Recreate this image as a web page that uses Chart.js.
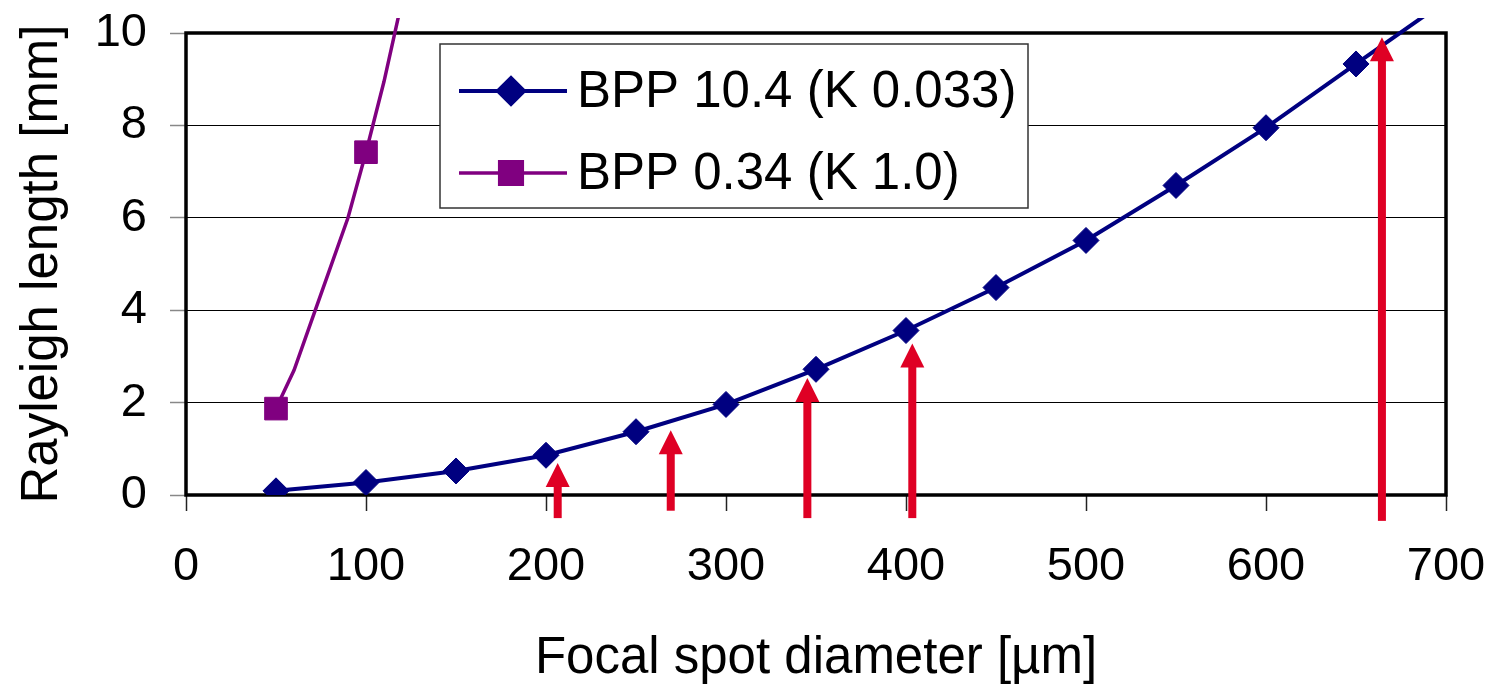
<!DOCTYPE html>
<html>
<head>
<meta charset="utf-8">
<script src="https://cdn.jsdelivr.net/npm/chart.js@4"></script>
<style>
  html, body { margin: 0; padding: 0; background: #fff; }
  #wrap { width: 1497px; height: 684px; }
</style>
</head>
<body>
<div id="wrap"><canvas id="rayleigh-chart" width="1497" height="684"></canvas></div>
<script>
// Data
const xTicks = [0, 100, 200, 300, 400, 500, 600, 700];
const yTicks = [0, 2, 4, 6, 8, 10];

// diameters where the original chart shows a marker
const markedDiameters = [50, 100, 150, 200, 250, 300, 350, 400, 450, 500, 550, 600, 650];

const bpp104Diameters = [50, 100, 150, 200, 250, 300, 350, 400, 450, 500, 550, 600, 650, 700];
const bpp104Lengths = [0.09, 0.27, 0.52, 0.86, 1.37, 1.96, 2.72, 3.56, 4.49, 5.51, 6.70, 7.95, 9.33, 10.7];

const bpp034Diameters = [50, 60, 70, 80, 90, 100, 110, 120];
const bpp034Lengths = [1.87, 2.7, 3.8, 4.9, 6.0, 7.42, 8.95, 10.7];

const seriesLabels = ['BPP 10.4 (K 0.033)', 'BPP 0.34 (K 1.0)'];

// red arrows: x position, tip and foot (in data units)
const arrowX = [206.5, 269.3, 345.2, 403.5, 664.4];
const arrowTip = [0.69, 1.40, 2.53, 3.28, 9.91];
const arrowFoot = [-0.50, -0.34, -0.50, -0.50, -0.56];

const FONT = '"Liberation Sans", Arial, sans-serif';
const BLUE = '#000080';
const PURPLE = '#800080';
const RED = '#DF0024';

const toPoints = (xs, ys) => xs.map((x, i) => ({ x: x, y: ys[i] }));
const markerRadius = (r) => (c) => (c.raw && markedDiameters.includes(c.raw.x)) ? r : 0;

// frame around the plot area, drawn under the lines
const framePlugin = {
    id: 'frame',
    beforeDatasetsDraw(chart) {
        const { ctx, chartArea: a } = chart;
        ctx.save();
        ctx.strokeStyle = '#000';
        ctx.lineWidth = 3.5;
        ctx.strokeRect(a.left, a.top, a.right - a.left, a.bottom - a.top);
        ctx.restore();
    }
};

const arrowPlugin = {
    id: 'arrows',
    afterDatasetsDraw(chart) {
        const { ctx, scales: { x, y } } = chart;
        ctx.save();
        ctx.fillStyle = RED;
        arrowX.forEach((v, i) => {
            const px = x.getPixelForValue(v);
            const tip = y.getPixelForValue(arrowTip[i]);
            const foot = y.getPixelForValue(arrowFoot[i]);
            const head = 24, half = 12, shaft = 4;
            ctx.fillRect(px - shaft, tip + head - 1, shaft * 2, foot - tip - head + 1);
            ctx.beginPath();
            ctx.moveTo(px, tip);
            ctx.lineTo(px + half, tip + head);
            ctx.lineTo(px - half, tip + head);
            ctx.closePath();
            ctx.fill();
        });
        ctx.restore();
    }
};

const legendPlugin = {
    id: 'boxLegend',
    afterDraw(chart) {
        const { ctx, chartArea: a } = chart;
        const left = a.left + 254, top = a.top + 11, w = 588, h = 164;
        ctx.save();
        ctx.fillStyle = '#fff';
        ctx.fillRect(left, top, w, h);
        ctx.strokeStyle = '#333';
        ctx.lineWidth = 1.5;
        ctx.strokeRect(left, top, w, h);
        chart.data.datasets.forEach((ds, i) => {
            const cy = top + 47 + i * 82;
            ctx.strokeStyle = ds.borderColor;
            ctx.lineWidth = ds.borderWidth;
            ctx.beginPath();
            ctx.moveTo(left + 19, cy);
            ctx.lineTo(left + 127, cy);
            ctx.stroke();
            ctx.fillStyle = ds.backgroundColor;
            Chart.helpers.drawPoint(ctx, {
                pointStyle: ds.pointStyle,
                radius: ds.legendRadius,
                borderWidth: 1,
                rotation: 0
            }, left + 71, cy);
            ctx.fill();
            ctx.fillStyle = '#000';
            ctx.font = '51px ' + FONT;
            ctx.textAlign = 'left';
            ctx.textBaseline = 'middle';
            ctx.fillText(ds.label, left + 137, cy + 2);
        });
        ctx.restore();
    }
};

// keep the plot area where the original has it, whatever the label sizes
const fixedBox = (size) => (s) => {
    if (s.isHorizontal()) s.height = size; else s.width = size;
    s.paddingTop = 0; s.paddingBottom = 0;
    s.paddingLeft = 0; s.paddingRight = 0;
};

const ctxRayleigh = document.getElementById('rayleigh-chart').getContext('2d');
new Chart(ctxRayleigh, {
    type: 'line',
    data: {
        datasets: [{
            label: seriesLabels[0],
            data: toPoints(bpp104Diameters, bpp104Lengths),
            borderColor: BLUE,
            backgroundColor: BLUE,
            borderWidth: 4,
            pointStyle: 'rectRot',
            pointRadius: markerRadius(13),
            legendRadius: 13,
            pointBorderWidth: 1,
            tension: 0,
            clip: { left: 0, top: 15, right: 0, bottom: 0 }
        }, {
            label: seriesLabels[1],
            data: toPoints(bpp034Diameters, bpp034Lengths),
            borderColor: PURPLE,
            backgroundColor: PURPLE,
            borderWidth: 3.5,
            pointStyle: 'rect',
            pointRadius: markerRadius(16),
            legendRadius: 16,
            pointBorderWidth: 1,
            tension: 0,
            clip: { left: 0, top: 15, right: 0, bottom: 0 }
        }]
    },
    options: {
        responsive: false,
        animation: false,
        events: [],
        layout: { padding: { top: 33, right: 51, bottom: 0, left: 0 } },
        plugins: {
            legend: { display: false },
            tooltip: { enabled: false }
        },
        scales: {
            x: {
                type: 'linear',
                min: xTicks[0],
                max: xTicks[xTicks.length - 1],
                afterFit: fixedBox(189),
                afterBuildTicks: (s) => { s.ticks = xTicks.map(v => ({ value: v })); },
                ticks: {
                    color: '#000',
                    padding: 33,
                    maxRotation: 0,
                    font: { family: FONT, size: 47, lineHeight: 1 }
                },
                grid: {
                    drawOnChartArea: false,
                    drawTicks: true,
                    tickLength: 16,
                    tickColor: '#222',
                    tickWidth: 1.5
                },
                border: { display: false },
                title: {
                    display: true,
                    text: 'Focal spot diameter [µm]',
                    color: '#000',
                    padding: { top: 0, bottom: 0 },
                    font: { family: FONT, size: 51, lineHeight: 1 }
                }
            },
            y: {
                type: 'linear',
                min: yTicks[0],
                max: yTicks[yTicks.length - 1],
                afterFit: fixedBox(186),
                afterBuildTicks: (s) => { s.ticks = yTicks.map(v => ({ value: v })); },
                ticks: {
                    color: '#000',
                    padding: 23,
                    font: { family: FONT, size: 47, lineHeight: 1 }
                },
                grid: {
                    color: '#000',
                    lineWidth: 1,
                    drawTicks: true,
                    tickLength: 16,
                    tickColor: '#888',
                    tickWidth: 1.5
                },
                border: { display: false },
                title: {
                    display: true,
                    text: 'Rayleigh length [mm]',
                    color: '#000',
                    padding: { top: 17, bottom: 0 },
                    font: { family: FONT, size: 51, lineHeight: 1 }
                }
            }
        }
    },
    plugins: [framePlugin, arrowPlugin, legendPlugin]
});
</script>
</body>
</html>
